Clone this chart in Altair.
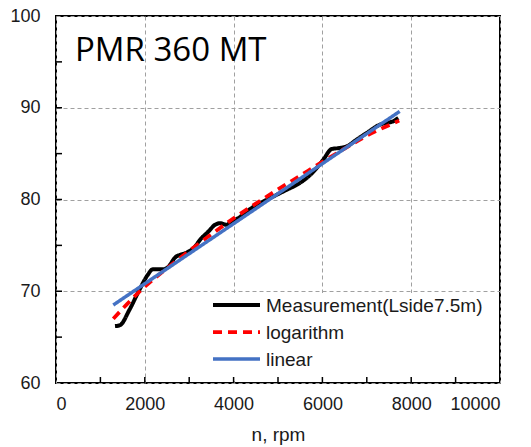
import altair as alt
import pandas as pd

# ---- data ----
series_names = ["Measurement(Lside7.5m)", "logarithm", "linear"]

meas_n = [1329, 1441, 1651, 1876, 2065, 2178, 2403, 2516, 2703, 2793, 2905, 3131, 3243,
          3430, 3581, 3694, 3844, 3950, 4106, 4369, 4670, 4970, 5196, 5421, 5646, 5871,
          6020, 6209, 6396, 6547, 6772, 7000, 7297, 7448, 7597, 7710]
meas_v = [66.2, 66.3, 67.95, 70.13, 71.77, 72.39, 72.39, 72.6, 73.77, 73.96, 74.14, 74.87, 75.6,
          76.5, 77.24, 77.42, 77.24, 77.6, 77.97, 78.95, 79.78, 80.51, 81.06, 81.6, 82.34, 83.43,
          84.34, 85.5, 85.62, 85.79, 86.53, 87.26, 88.16, 88.35, 88.53, 88.9]

log_n = [1290, 1600, 2000, 2500, 3000, 3500, 4000, 4500, 5000, 5500, 6000, 6500, 7000, 7500, 7730]
log_v = [67.0, 68.6, 70.5, 72.5, 74.4, 76.2, 77.95, 79.55, 81.1, 82.6, 84.1, 85.55, 86.95, 88.1, 88.6]

lin_n = [1290, 7740]
lin_v = [68.5, 89.6]

x_ticks = [1000, 2000, 3000, 4000, 5000, 6000, 7000, 8000, 9000]
y_ticks = [65, 70, 75, 80, 85, 90, 95]
x_labels = [0, 2000, 4000, 6000, 8000, 10000]
y_labels = [60, 70, 80, 90, 100]
title_text = ["PMR 360 MT"]

rows = []
for n, v in zip(meas_n, meas_v):
    rows.append({"n": n, "v": v, "s": series_names[0]})
for n, v in zip(log_n, log_v):
    rows.append({"n": n, "v": v, "s": series_names[1]})
for n, v in zip(lin_n, lin_v):
    rows.append({"n": n, "v": v, "s": series_names[2]})
df = pd.DataFrame(rows)

W, H = 444, 367
x_scale = alt.Scale(domain=[0, 10000], nice=False)
y_scale = alt.Scale(domain=[60, 100], nice=False, zero=False)

x_enc = alt.X("n:Q", scale=x_scale, axis=alt.Axis(values=x_labels, title="n, rpm", format="d"))
y_enc = alt.Y("v:Q", scale=y_scale, axis=alt.Axis(values=y_labels, title=None, format="d"))

color = alt.Color("s:N", legend=None,
                  scale=alt.Scale(domain=series_names, range=["#000000", "#FF0000", "#4472C4"]))
dash = alt.StrokeDash("s:N", legend=None,
                      scale=alt.Scale(domain=series_names, range=[[1, 0], [9, 6], [1, 0]]))
sw = alt.StrokeWidth("s:N", legend=None,
                     scale=alt.Scale(domain=series_names, range=[4, 3.5, 2.5]))

base = alt.Chart(df).mark_line(interpolate="monotone").encode(
    x=x_enc, y=y_enc, color=color, strokeDash=dash, strokeWidth=sw
)
layers = [base.transform_filter(alt.datum.s == name) for name in series_names]

# legend box (white, covers the grid) and legend entries
leg_df = pd.DataFrame({"s": series_names})
box = alt.Chart(leg_df).mark_rect(color="white").encode(
    x=alt.value(150), x2=alt.value(W - 2), y=alt.value(277), y2=alt.value(H - 2)
).transform_filter(alt.datum.s == series_names[0])

leg_layers = []
row_y = [289, 316, 343]
for i, name in enumerate(series_names):
    sub = alt.Chart(leg_df).transform_filter(alt.datum.s == name)
    leg_layers.append(sub.mark_rule().encode(
        x=alt.value(157), x2=alt.value(204), y=alt.value(row_y[i]),
        color=color, strokeDash=dash, strokeWidth=sw
    ))
    leg_layers.append(sub.mark_text(
        align="left", baseline="middle", font="Liberation Sans", fontSize=19, color="#1a1a1a"
    ).encode(x=alt.value(210), y=alt.value(row_y[i] + 1), text="s:N"))

xt = alt.Chart(pd.DataFrame({"t": x_ticks})).mark_rule(color="black", strokeWidth=1.5).encode(
    x=alt.X("t:Q", scale=x_scale), y=alt.value(H), y2=alt.value(H - 6)
)
yt = alt.Chart(pd.DataFrame({"t": y_ticks})).mark_rule(color="black", strokeWidth=1.5).encode(
    y=alt.Y("t:Q", scale=y_scale), x=alt.value(0), x2=alt.value(6)
)
title = alt.Chart(pd.DataFrame({"t": title_text})).mark_text(
    align="left", baseline="alphabetic", font="Open Sans", fontSize=33, color="black"
).encode(text="t:N", x=alt.value(19), y=alt.value(45))

chart = alt.layer(box, *layers, *leg_layers, xt, yt, title).properties(
    width=W, height=H,
    autosize=alt.AutoSizeParams(type="none"),
    padding={"left": 56, "top": 16, "right": 31, "bottom": 64},
).configure_view(
    stroke="black", strokeWidth=2
).configure_axis(
    grid=True, gridDash=[4, 3], gridColor="#a0a0a0", gridWidth=1,
    ticks=False, tickSize=0, domain=False,
    labelFont="Liberation Sans", labelFontSize=18, labelColor="#1a1a1a",
    titleFont="Liberation Sans", titleFontSize=19, titleFontWeight="normal", titleColor="#1a1a1a",
).configure_axisX(
    labelPadding=12, titlePadding=12
).configure_axisY(
    labelPadding=16
)

chart.save("out.html", embed_options={"renderer": "svg", "actions": False})
